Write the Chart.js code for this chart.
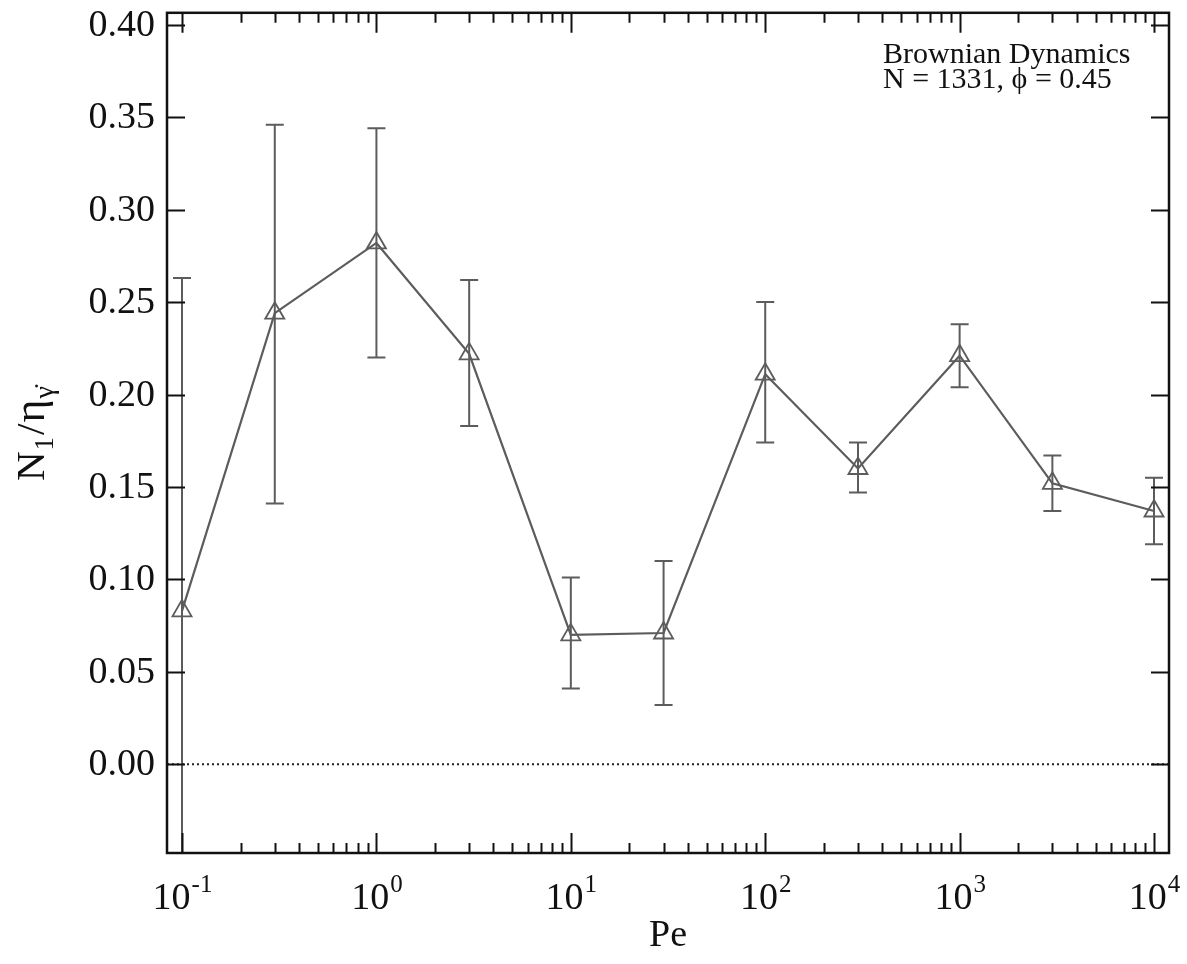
<!DOCTYPE html>
<html>
<head>
<meta charset="utf-8">
<script src="https://cdn.jsdelivr.net/npm/chart.js@4"></script>
<style>
  body { margin: 0; background: #fff; }
  canvas { display: block; }
</style>
</head>
<body>
<canvas id="chart" width="1187" height="964"></canvas>
<script>
// ================= DATA =================
const pe = [0.1, 0.3, 1, 3, 10, 30, 100, 300, 1000, 3000, 10000];
const n1 = [0.083, 0.244, 0.282, 0.222, 0.070, 0.071, 0.211, 0.160, 0.221, 0.152, 0.137];
const errLow = [-0.06, 0.141, 0.220, 0.183, 0.041, 0.032, 0.174, 0.147, 0.204, 0.137, 0.119];
const errHigh = [0.263, 0.346, 0.344, 0.262, 0.101, 0.110, 0.250, 0.174, 0.238, 0.167, 0.155];

const xDecades = [-1, 0, 1, 2, 3, 4];           // tick labels 10^n
const yTicks = [0.00, 0.05, 0.10, 0.15, 0.20, 0.25, 0.30, 0.35, 0.40];
const legendLines = ["Brownian Dynamics", "N = 1331, \u03D5 = 0.45"];

// ================= STYLE =================
const SERIF = '"Liberation Serif", "Times New Roman", serif';
const INK = "#111";
const GRAY = "#5c5c5c";

// ================= PLUGIN : ERROR BARS + ZERO LINE =================
const errorBars = {
  id: "errorBars",
  beforeDatasetsDraw(chart) {
    const { ctx, chartArea: a, scales: { x, y } } = chart;
    ctx.save();
    ctx.beginPath();
    ctx.rect(a.left, a.top, a.right - a.left, a.bottom - a.top);
    ctx.clip();

    // dotted zero line
    ctx.strokeStyle = "#222";
    ctx.lineWidth = 2;
    ctx.setLineDash([2, 3]);
    ctx.beginPath();
    ctx.moveTo(a.left, y.getPixelForValue(0));
    ctx.lineTo(a.right, y.getPixelForValue(0));
    ctx.stroke();
    ctx.setLineDash([]);

    // error bars
    ctx.strokeStyle = GRAY;
    ctx.lineWidth = 2;
    pe.forEach((p, i) => {
      const px = x.getPixelForValue(p);
      const yl = y.getPixelForValue(errLow[i]);
      const yh = y.getPixelForValue(errHigh[i]);
      ctx.beginPath();
      ctx.moveTo(px, yl); ctx.lineTo(px, yh);
      ctx.moveTo(px - 9, yh); ctx.lineTo(px + 9, yh);
      ctx.moveTo(px - 9, yl); ctx.lineTo(px + 9, yl);
      ctx.stroke();
    });
    ctx.restore();
  }
};

// ================= PLUGIN : FRAME, TICKS, LABELS =================
const frame = {
  id: "frame",
  afterDraw(chart) {
    const { ctx, chartArea: a, scales: { x, y } } = chart;
    ctx.save();

    // frame
    ctx.strokeStyle = INK;
    ctx.lineWidth = 2.5;
    ctx.strokeRect(a.left, a.top, a.right - a.left, a.bottom - a.top);

    // x ticks (bottom + top, inward)
    ctx.lineWidth = 2;
    ctx.beginPath();
    xDecades.forEach(d => {
      for (let m = 1; m <= 9; m++) {
        const v = m * Math.pow(10, d);
        if (v < x.min || v > x.max) continue;
        const px = Math.round(x.getPixelForValue(v)) + 0.5;
        const len = m === 1 ? 20 : 10;
        ctx.moveTo(px, a.bottom); ctx.lineTo(px, a.bottom - len);
        ctx.moveTo(px, a.top); ctx.lineTo(px, a.top + len);
      }
    });
    // y ticks (left + right, inward)
    yTicks.forEach(v => {
      const py = Math.round(y.getPixelForValue(v)) + 0.5;
      ctx.moveTo(a.left, py); ctx.lineTo(a.left + 18, py);
      ctx.moveTo(a.right, py); ctx.lineTo(a.right - 18, py);
    });
    ctx.stroke();

    // y tick labels
    ctx.fillStyle = INK;
    ctx.font = "38px " + SERIF;
    ctx.textAlign = "right";
    ctx.textBaseline = "middle";
    yTicks.forEach(v => {
      ctx.fillText(v.toFixed(2), a.left - 12, y.getPixelForValue(v) + 1);
    });

    // x tick labels 10^n
    ctx.textBaseline = "alphabetic";
    ctx.textAlign = "left";
    xDecades.forEach(d => {
      const px = x.getPixelForValue(Math.pow(10, d));
      const exp = String(d);
      ctx.font = "38px " + SERIF;
      const wBase = ctx.measureText("10").width;
      ctx.font = "25px " + SERIF;
      const wExp = ctx.measureText(exp).width;
      const left = px - (wBase + wExp) / 2;
      ctx.font = "38px " + SERIF;
      ctx.fillText("10", left, 909);
      ctx.font = "25px " + SERIF;
      ctx.fillText(exp, left + wBase + 1, 892);
    });

    // x title
    ctx.font = "38px " + SERIF;
    ctx.textAlign = "center";
    ctx.fillText("Pe", (a.left + a.right) / 2, 946);

    // y title N1/eta gamma-dot
    ctx.save();
    ctx.translate(44, 481);
    ctx.rotate(-Math.PI / 2);
    ctx.textAlign = "left";
    let cx = 0;
    const part = (t, size, dy, gap) => {
      ctx.font = size + "px " + SERIF;
      ctx.fillText(t, cx, dy);
      cx += ctx.measureText(t).width + gap;
    };
    part("N", 41, 0, 1);
    part("1", 27, 9, 2);
    part("/", 41, 0, 1);
    part("\u03B7", 44, 0, 1);
    part("\u03B3\u0307", 28, 9, 0);
    ctx.restore();

    // legend text
    ctx.font = "30px " + SERIF;
    ctx.textAlign = "left";
    legendLines.forEach((t, i) => ctx.fillText(t, 883, 63 + i * 25));

    ctx.restore();
  }
};

// ================= CHART =================
const hidden = {
  display: true,
  ticks: { display: false },
  grid: { display: false },
  border: { display: false },
  title: { display: false }
};

new Chart(document.getElementById("chart").getContext("2d"), {
  type: "line",
  data: {
    datasets: [{
      data: pe.map((p, i) => ({ x: p, y: n1[i] })),
      borderColor: GRAY,
      borderWidth: 2.2,
      pointStyle: "triangle",
      pointRadius: 11,
      pointBorderColor: GRAY,
      pointBorderWidth: 1.8,
      pointBackgroundColor: "rgba(0,0,0,0)",
      tension: 0,
      clip: false
    }]
  },
  options: {
    responsive: false,
    animation: false,
    layout: { padding: { left: 167, right: 18, top: 10, bottom: 111 } },
    plugins: { legend: { display: false }, tooltip: { enabled: false } },
    scales: {
      x: {
        ...hidden,
        type: "logarithmic",
        min: 0.0837,
        max: 11940,
        afterFit(s) { s.height = 0; }
      },
      y: {
        ...hidden,
        type: "linear",
        min: -0.048,
        max: 0.4065,
        afterFit(s) { s.width = 0; }
      }
    }
  },
  plugins: [errorBars, frame]
});
</script>
</body>
</html>
